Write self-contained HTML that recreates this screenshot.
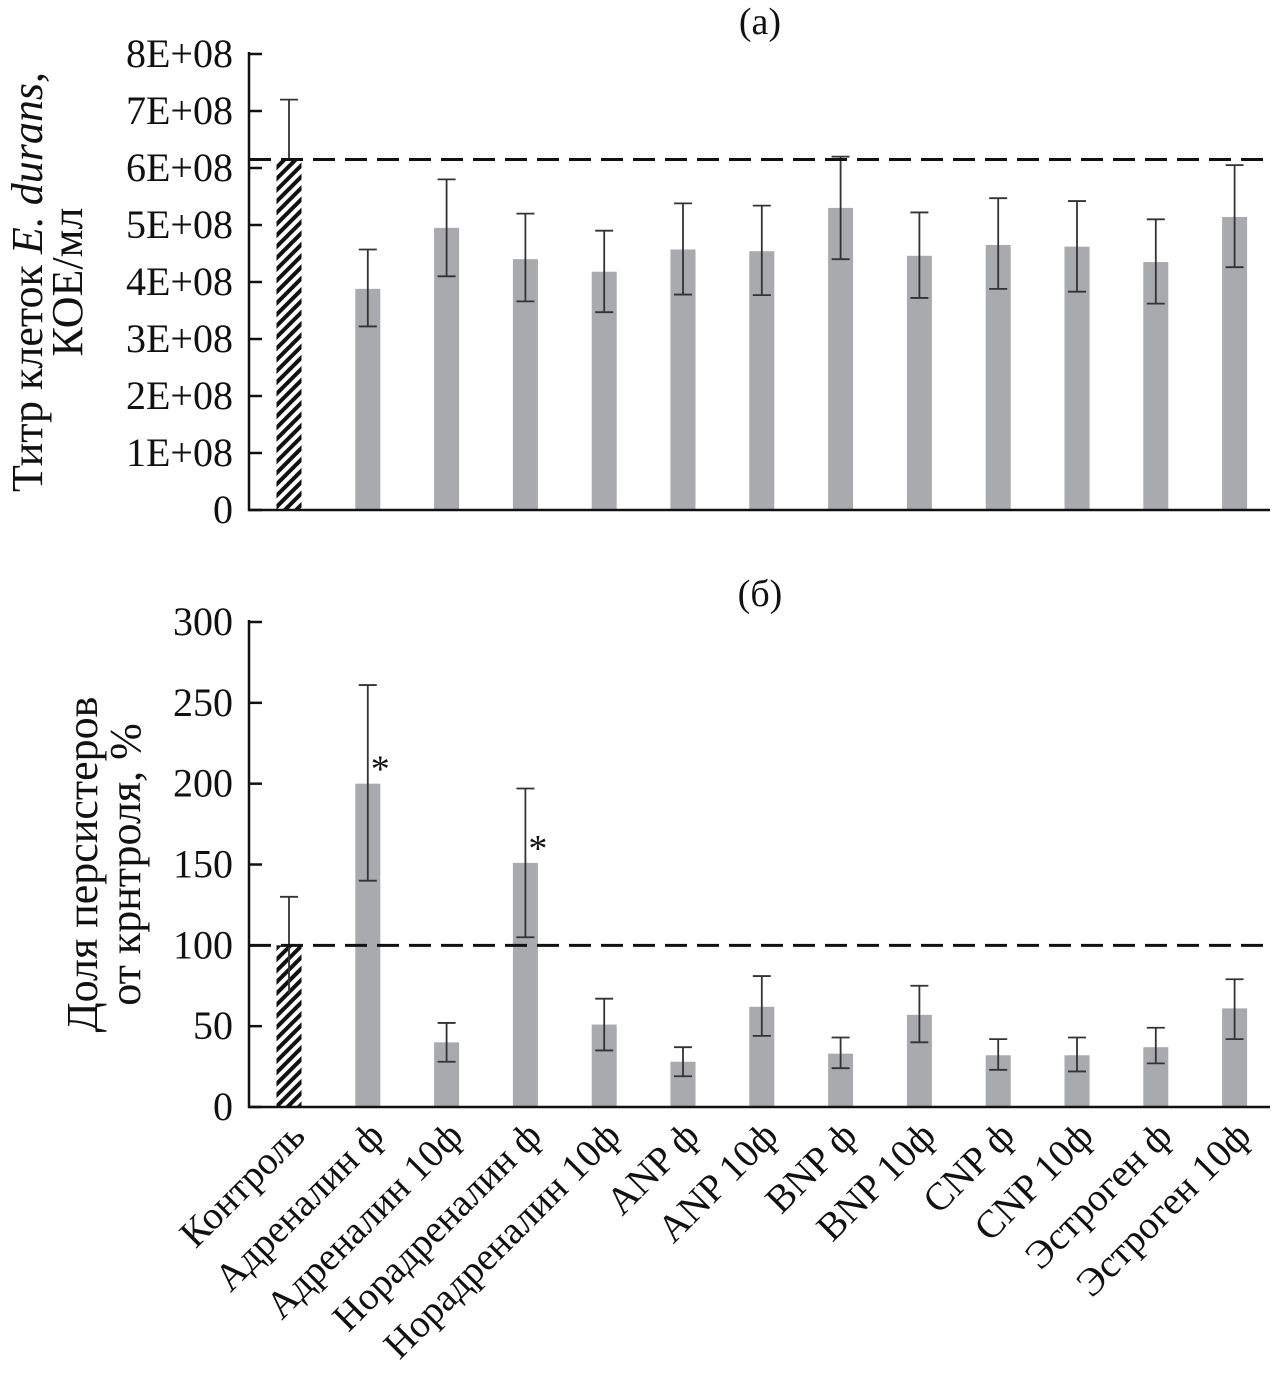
<!DOCTYPE html>
<html><head><meta charset="utf-8"><style>
body{margin:0;background:#fff}
svg{display:block;font-family:"Liberation Serif",serif}
</style></head><body>
<svg id="c" width="1285" height="1399">
<defs><pattern id="hatch" patternUnits="userSpaceOnUse" width="8" height="8" patternTransform="rotate(-45)">
<rect width="8" height="8" fill="#fff"/><rect width="8" height="4" fill="#111"/></pattern></defs>
</svg>
<script>
const categories=["Контроль","Адреналин ф","Адреналин 10ф","Норадреналин ф","Норадреналин 10ф","ANP ф","ANP 10ф","BNP ф","BNP 10ф","CNP ф","CNP 10ф","Эстроген ф","Эстроген 10ф"];
const titerValues=[6.15,3.88,4.95,4.4,4.18,4.57,4.54,5.3,4.46,4.65,4.62,4.35,5.14];
const titerErrLow=[6.15,3.22,4.1,3.66,3.47,3.78,3.77,4.4,3.72,3.88,3.83,3.62,4.26];
const titerErrHigh=[7.2,4.57,5.8,5.2,4.9,5.38,5.34,6.2,5.22,5.47,5.42,5.1,6.05];
const titerTicks=["0","1E+08","2E+08","3E+08","4E+08","5E+08","6E+08","7E+08","8E+08"];
const persValues=[100,200,40,151,51,28,62,33,57,32,32,37,61];
const persErrLow=[70.5,140,28,105,35,19,44,24,40,23,22,27,42];
const persErrHigh=[130,261,52,197,67,37,81,43,75,42,43,49,79];
const persTicks=["0","50","100","150","200","250","300"];
const sig=[false,true,false,true,false,false,false,false,false,false,false,false,false];

const svg=document.getElementById('c');const NS='http://www.w3.org/2000/svg';
function mk(t,a,p){const e=document.createElementNS(NS,t);for(const k in a)e.setAttribute(k,a[k]);(p||svg).appendChild(e);return e;}
const x0=249,x1=1270;
function xc(i){return 289+i*78.8;}
function panel(key,y0,yTop,max,ticks,vals,lo,hi,dash,title,titleY,yl1,yl2,ylx){
  const ys=v=>y0-(y0-yTop)*v/max;
  const g=mk('g',{});
  ticks.forEach((t,i)=>{const v=max*i/(ticks.length-1);const y=ys(v);
    const tk=mk('line',{x1:x0,x2:x0+13,y1:y,y2:y,stroke:'#111','stroke-width':2.5},g);
    
    const tl=mk('text',{x:x0-16,y:y+13,'text-anchor':'end','font-size':40,fill:'#111'},g);tl.textContent=t;
    });
  vals.forEach((v,i)=>{const cx=xc(i);
    const b=mk('rect',{x:cx-12.5,y:ys(v),width:25,height:y0-ys(v),fill:i==0?'url(#hatch)':'#a8aaad'},g);
    
    const e=mk('path',{d:`M${cx},${ys(lo[i])}V${ys(hi[i])}M${cx-9},${ys(hi[i])}H${cx+9}`+(i==0?'':`M${cx-9},${ys(lo[i])}H${cx+9}`),stroke:'#333','stroke-width':1.8,fill:'none'},g);
    
    if(sig[i]&&key=='persister'){const s=mk('text',{x:cx+3,y:ys(v)-2,'font-size':38,fill:'#111'},g);s.textContent='*';
      }
  });
  const ax=mk('path',{d:`M${x0},${yTop-2}V${y0}H${x1}`,stroke:'#111','stroke-width':2.5,fill:'none'},g);
  
  const d=mk('line',{x1:x0,x2:x1,y1:ys(dash),y2:ys(dash),stroke:'#111','stroke-width':3,'stroke-dasharray':'22,10'},g);
  
  const t=mk('text',{x:760,y:titleY,'text-anchor':'middle','font-size':38,fill:'#111'},g);t.textContent=title;
  
  const yc=(y0+yTop)/2;
  [yl1,yl2].forEach((l,j)=>{const tt=mk('text',{x:0,y:0,'text-anchor':'middle','font-size':44,fill:'#111',transform:`translate(${ylx[j]},${yc}) rotate(-90)`},g);tt.innerHTML=l;
    });
}
panel('titer',510,54,8,titerTicks,titerValues,titerErrLow,titerErrHigh,6.15,'(а)',34,'Титр клеток <tspan font-style="italic">E. durans</tspan>,','КОЕ/мл',[42,82]);
panel('persister',1107,622,300,persTicks,persValues,persErrLow,persErrHigh,100,'(б)',606,'Доля персистеров','от крнтроля, %',[97,140]);
categories.forEach((c,i)=>{const cx=xc(i);
  const t=mk('text',{x:0,y:0,'text-anchor':'end','font-size':39,fill:'#111',transform:`translate(${cx+18},${1138}) rotate(-45)`});t.textContent=c;
  });
</script>
</body></html>
